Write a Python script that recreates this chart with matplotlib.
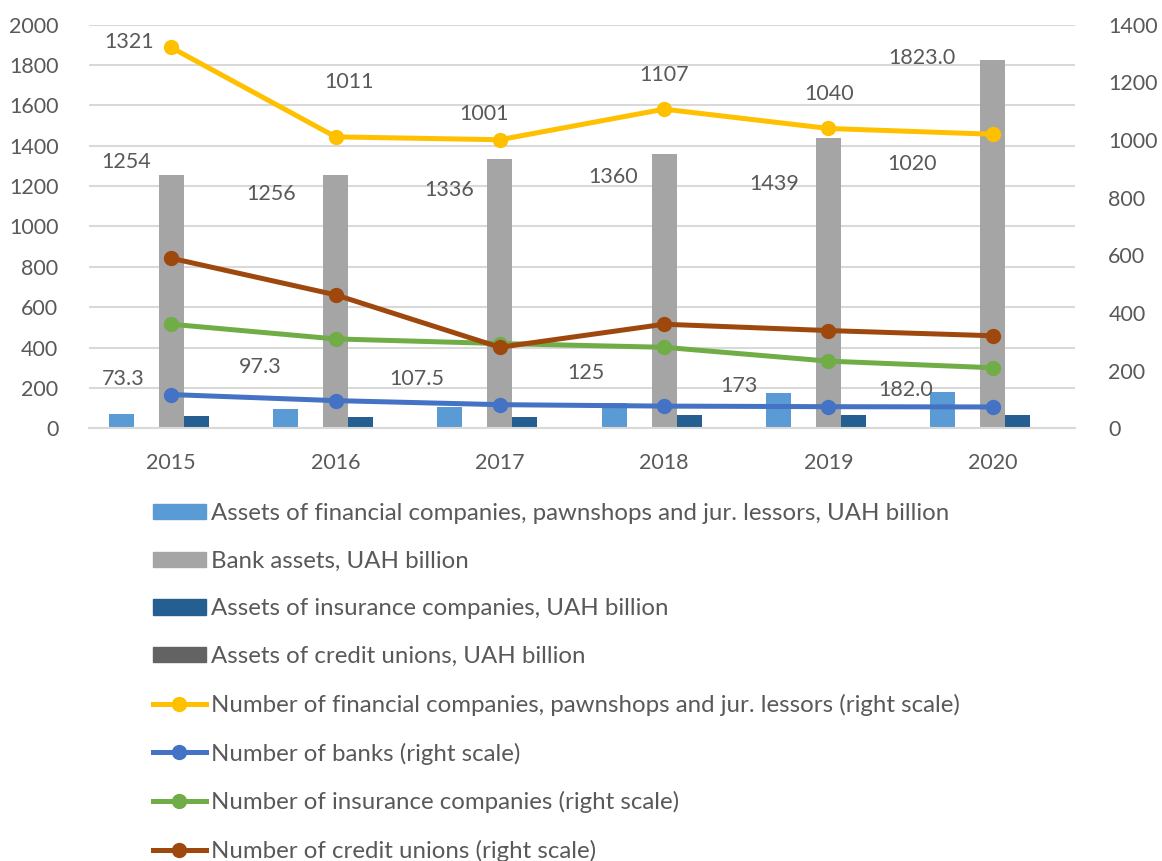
import numpy as np
import matplotlib.pyplot as plt
from matplotlib.lines import Line2D
from matplotlib.patches import Patch

plt.rcParams['font.family'] = ['Lato', 'DejaVu Sans']

years = ['2015', '2016', '2017', '2018', '2019', '2020']

# bars, UAH billion (left scale)
fc_assets = [73.3, 97.3, 107.5, 125, 173, 182.0]
fc_assets_lbl = ['73.3', '97.3', '107.5', '125', '173', '182.0']
bank_assets = [1254, 1256, 1336, 1360, 1439, 1823.0]
bank_assets_lbl = ['1254', '1256', '1336', '1360', '1439', '1823.0']
ins_assets = [60, 58, 58, 64, 66, 66]
cu_assets = [2.1, 2.3, 2.4, 2.6, 2.8, 2.5]

# lines, counts (right scale)
n_fc = [1321, 1011, 1001, 1107, 1040, 1020]
n_banks = [117, 96, 82, 77, 75, 74]
n_ins = [361, 310, 294, 281, 233, 210]
n_cu = [590, 463, 281, 361, 339, 321]

# label offsets in pixels (dx, dy up) - labels were moved by hand in the original
fc_lbl_off = [(2, 35), (-25, 42), (-33, 28), (-28, 30), (-40, 7), (-37, 2)]
bank_lbl_off = [(-45, 13), (-64, -19), (-51, -31), (-51, -23), (-54, -46), (-71, 2)]
nfc_lbl_off = [(-42, 5), (14, 55), (-16, 26), (0, 34), (1, 34), (-81, -30)]

txt = '#595959'
grid = '#d9d9d9'
fs = 15.5

fig = plt.figure(figsize=(11.62, 8.61), dpi=100)
ax = fig.add_axes([89 / 1162, 1 - 428.3 / 861, 986 / 1162, 403.6 / 861])
ax2 = ax.twinx()

x = np.arange(len(years))
w = 0.152
ax.bar(x - 2 * w, fc_assets, w, color='#5B9BD5', zorder=2)
ax.bar(x, bank_assets, w, color='#A5A5A5', zorder=2)
ax.bar(x + w, ins_assets, w, color='#255E91', zorder=2)
ax.bar(x + 2 * w, cu_assets, w, color='#636363', zorder=2)

lines = [(n_fc, '#FFC000'), (n_banks, '#4472C4'), (n_ins, '#70AD47'), (n_cu, '#9E480E')]
for vals, c in lines:
    ax2.plot(x, vals, color=c, lw=3.6, marker='o', ms=10, solid_capstyle='round')

for i in range(len(years)):
    ax.annotate(fc_assets_lbl[i], (x[i] - 2 * w, fc_assets[i]), xytext=fc_lbl_off[i],
                textcoords='offset pixels', ha='center', va='center', fontsize=fs, color=txt)
    ax.annotate(bank_assets_lbl[i], (x[i], bank_assets[i]), xytext=bank_lbl_off[i],
                textcoords='offset pixels', ha='center', va='center', fontsize=fs, color=txt)
    ax2.annotate(str(n_fc[i]), (x[i], n_fc[i]), xytext=nfc_lbl_off[i],
                 textcoords='offset pixels', ha='center', va='center', fontsize=fs, color=txt)

ax.set_xlim(-0.5, 5.5)
ax.set_ylim(0, 2000)
ax.set_yticks(np.arange(0, 2001, 200))
ax2.set_ylim(0, 1400)
ax2.set_yticks(np.arange(0, 1401, 200))
ax.set_xticks(x)
ax.set_xticklabels(years)
ax.yaxis.grid(True, color=grid, lw=1.5, zorder=0)
ax.set_axisbelow(True)
for a in (ax, ax2):
    for s in a.spines.values():
        s.set_visible(False)
    a.tick_params(length=0, labelsize=fs, colors=txt)
ax.spines['bottom'].set_visible(True)
ax.spines['bottom'].set_color(grid)
ax.spines['bottom'].set_linewidth(1.5)
ax.tick_params(axis='y', pad=22)
ax.tick_params(axis='x', pad=18)
ax2.tick_params(axis='y', pad=24)

handles = [
    Patch(color='#5B9BD5'), Patch(color='#A5A5A5'), Patch(color='#255E91'), Patch(color='#636363'),
]
for vals, c in lines:
    handles.append(Line2D([], [], color=c, lw=3.6, marker='o', ms=10))
labels = [
    'Assets of financial companies, pawnshops and jur. lessors, UAH billion',
    'Bank assets, UAH billion',
    'Assets of insurance companies, UAH billion',
    'Assets of credit unions, UAH billion',
    'Number of financial companies, pawnshops and jur. lessors (right scale)',
    'Number of banks (right scale)',
    'Number of insurance companies (right scale)',
    'Number of credit unions (right scale)',
]
fig.legend(handles, labels, loc='upper left', bbox_to_anchor=(153 / 1162, 1 - 503 / 861),
           frameon=False, fontsize=17.3, labelcolor=txt, handlelength=2.2, handleheight=0.6,
           handletextpad=0.2, labelspacing=1.11, borderaxespad=0, borderpad=0)

fig.savefig('out.png', dpi=100)
